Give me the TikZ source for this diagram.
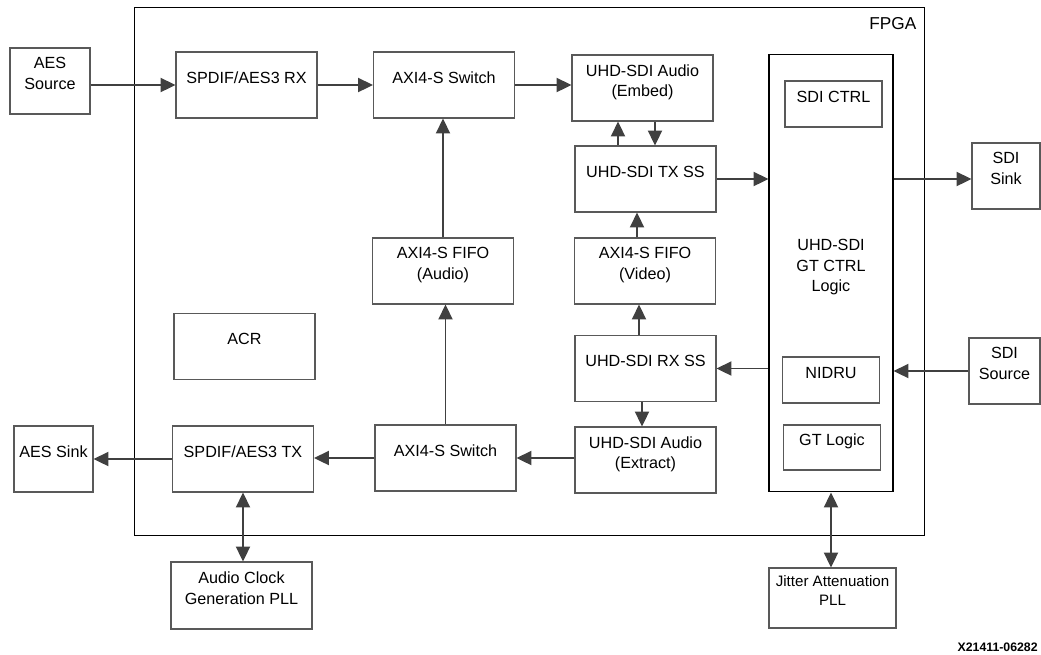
\documentclass[tikz,border=0pt]{standalone}
\usepackage{fontspec}
\setmainfont{Liberation Sans}
\usetikzlibrary{arrows.meta}

\begin{document}
\begin{tikzpicture}[x=0.02cm, y=-0.02cm,
  font=\fontsize{9.2}{11.6}\selectfont,
  blk/.style = {draw=black!65, line width=0.6pt, align=center, text depth=0.85em,
    inner sep=0pt, minimum width=2.82cm, minimum height=1.32cm},
  sub/.style = {blk, minimum width=1.94cm, minimum height=0.92cm},
  arr/.style = {draw=black!75, line width=1.1pt, -{Triangle[length=8.5pt,width=8pt]}},
  dbl/.style = {arr, {Triangle[length=8.5pt,width=8pt]}-{Triangle[length=8.5pt,width=8pt]}}]
\useasboundingbox (0,0) rectangle (1041,654);

% device frame
\node[draw, line width=0.6pt, minimum width=15.82cm, minimum height=10.58cm] (fpga) at (529.5,271.5) {};
\node[anchor=north east, font=\fontsize{9.8}{11}\selectfont] (fpgatxt) at ([xshift=-0.06cm,yshift=-0.1cm]fpga.north east) {FPGA};

% audio path
\node[blk, minimum width=1.6cm] (aessrc) at (50,81) {AES\\Source};
\node[blk] (rx) at (246.5,85) {SPDIF/AES3 RX};
\node[blk] (swtop) at (444,85) {AXI4-S Switch};
\node[blk] (fifoa) at (443,271) {AXI4-S FIFO\\(Audio)};
\node[blk] (acr) at (244.5,346.5) {ACR};
\node[blk] (swbot) at (445.5,458) {AXI4-S Switch};
\node[blk] (txaes) at (243,459) {SPDIF/AES3 TX};
\node[blk, minimum width=1.58cm] (aessink) at (53.5,459) {AES Sink};
\node[blk, minimum height=1.34cm] (clk) at (241.5,595.5) {Audio Clock\\Generation PLL};

% video path
\node[blk] (emb) at (642.5,88) {UHD-SDI Audio\\(Embed)};
\node[blk] (tx) at (645.5,179) {UHD-SDI TX SS};
\node[blk] (fifov) at (645,271) {AXI4-S FIFO\\(Video)};
\node[blk] (rxss) at (645.5,368.5) {UHD-SDI RX SS};
\node[blk] (ext) at (645.5,460) {UHD-SDI Audio\\(Extract)};

% transceiver side
\node[blk, draw=black, minimum width=2.48cm, minimum height=8.76cm] (gtctrl) at (831,273) {UHD-SDI\\GT CTRL\\Logic};
\node[sub] (sdictrl) at (833.5,104) {SDI CTRL};
\node[sub] (nidru) at (831,380) {NIDRU};
\node[sub, minimum height=0.9cm] (gtlogic) at (832,447.5) {GT Logic};
\node[blk, minimum width=1.36cm] (sink) at (1006,176) {SDI\\Sink};
\node[blk, minimum width=1.42cm] (source) at (1004.5,371) {SDI\\Source};
\node[blk, minimum width=2.54cm, minimum height=1.2cm, font=\fontsize{8.6}{11.3}\selectfont] (jit) at (832.5,598) {Jitter Attenuation\\PLL};

\node[anchor=south east, inner sep=0pt, font=\bfseries\fontsize{7}{8}\selectfont] (tag) at (1038,652) {X21411-06282};

% connections
\draw[arr] (aessrc.east |- rx.west) -- (rx.west);
\draw[arr] (rx.east) -- (swtop.west);
\draw[arr] (swtop.east) -- (emb.west |- swtop.east);
\draw[arr] (fifoa.north) -- (fifoa.north |- swtop.south);
\draw[arr] ([xshift=-0.55cm]tx.north) coordinate (up) -- (up |- emb.south);
\draw[arr] ([xshift=0.25cm]emb.south) coordinate (dn) -- (dn |- tx.north);
\draw[arr] (tx.east) -- (gtctrl.west |- tx.east);
\draw[arr] (gtctrl.east |- tx.east) -- (sink.west |- tx.east);
\draw[arr] ([xshift=-0.16cm]fifov.north) coordinate (vf) -- (vf |- tx.south);
\draw[arr] ([xshift=-0.13cm]rxss.north) coordinate (vr) -- (vr |- fifov.south);
\draw[arr] (gtctrl.west |- rxss.east) -- (rxss.east);
\draw[arr] (source.west) -- (gtctrl.east |- source.west);
\draw[arr] ([xshift=-0.07cm]rxss.south) coordinate (ve) -- (ve |- ext.north);
\draw[arr] (ext.west |- swbot.east) -- (swbot.east);
\draw[arr] (swbot.north) -- (swbot.north |- fifoa.south);
\draw[arr] (swbot.west) -- (txaes.east |- swbot.west);
\draw[arr] (txaes.west) -- (aessink.east |- txaes.west);
\draw[dbl] (txaes.south) -- (txaes.south |- clk.north);
\draw[dbl] (gtctrl.south) -- (gtctrl.south |- jit.north);
\end{tikzpicture}
\end{document}
